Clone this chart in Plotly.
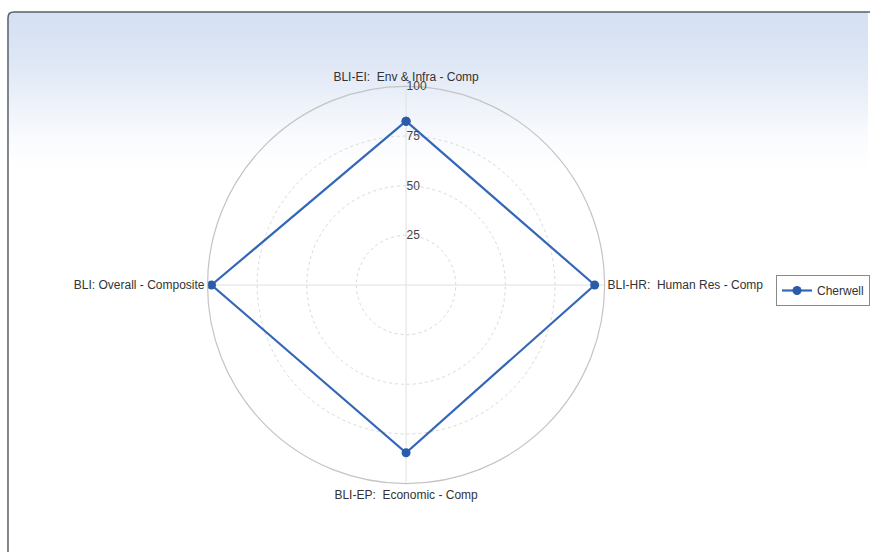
import plotly.graph_objects as go

# Radar categories (clockwise from the top) and the Cherwell scores
categories = [
    "BLI-EI:  Env & Infra - Comp",
    "BLI-HR:  Human Res - Comp",
    "BLI-EP:  Economic - Comp",
    "BLI: Overall - Composite",
]
cherwell = [82.5, 95, 84.5, 98]
radial_ticks = [25, 50, 75, 100]

W, H = 870, 552
FONT = "Liberation Sans, Arial, sans-serif"


def px(x):
    return x / W


def py(y):
    return 1 - y / H


fig = go.Figure()
fig.add_trace(go.Scatterpolar(
    r=cherwell + cherwell[:1],
    theta=categories + categories[:1],
    mode="lines+markers",
    name="Cherwell",
    line=dict(color="#3567b8", width=2.2),
    marker=dict(color="#2a5caa", size=9),
))

# Soft blue-to-white gradient across the top of the panel
shapes = []
top, bottom, steps = 12, 180, 84
c0 = (214, 225, 243)
for i in range(steps):
    s = i / (steps - 1)
    t = s * s * (3 - 2 * s)  # smoothstep easing
    col = tuple(round(c0[k] + (255 - c0[k]) * t) for k in range(3))
    y0 = top + (bottom - top) * i / steps
    y1 = top + (bottom - top) * (i + 1) / steps + 0.5
    shapes.append(dict(
        type="rect", xref="paper", yref="paper", layer="below",
        x0=px(8), x1=1, y0=py(y1), y1=py(y0),
        fillcolor="rgb(%d,%d,%d)" % col, line=dict(width=0),
    ))

# Panel frame with a rounded top-left corner
frame = "M %f,%f L %f,%f Q %f,%f %f,%f L %f,%f" % (
    px(8), py(560), px(8), py(18), px(8), py(12), px(14), py(12), px(880), py(12))
shapes.append(dict(type="path", xref="paper", yref="paper", path=frame,
                   line=dict(color="#5a6068", width=1.5), layer="above"))

cx, cy, R = 407, 285, 199
fig.update_layout(
    width=W, height=H,
    margin=dict(l=0, r=0, t=0, b=0),
    paper_bgcolor="white",
    font=dict(family=FONT, size=12, color="#333333"),
    shapes=shapes,
    polar=dict(
        domain=dict(x=[px(cx - R), px(cx + R)], y=[py(cy + R), py(cy - R)]),
        bgcolor="rgba(0,0,0,0)",
        angularaxis=dict(
            rotation=90, direction="clockwise",
            showline=True, linecolor="#c4c4c4", linewidth=1.2,
            gridcolor="#e0e0e0", ticks="",
            tickfont=dict(family=FONT, size=12, color="#333333"),
        ),
        radialaxis=dict(
            range=[0, 100], tickvals=radial_ticks, angle=90, tickangle=90,
            showline=False, ticks="",
            gridcolor="#d9d9d9", griddash="dot",
            tickfont=dict(family=FONT, size=12, color="#444444"),
        ),
    ),
    showlegend=True,
    legend=dict(
        x=px(778), y=py(275), xanchor="left", yanchor="top",
        bordercolor="#8a8a8a", borderwidth=1, bgcolor="white",
        font=dict(family=FONT, size=12, color="#333333"),
    ),
)

fig.write_html("out.html")
